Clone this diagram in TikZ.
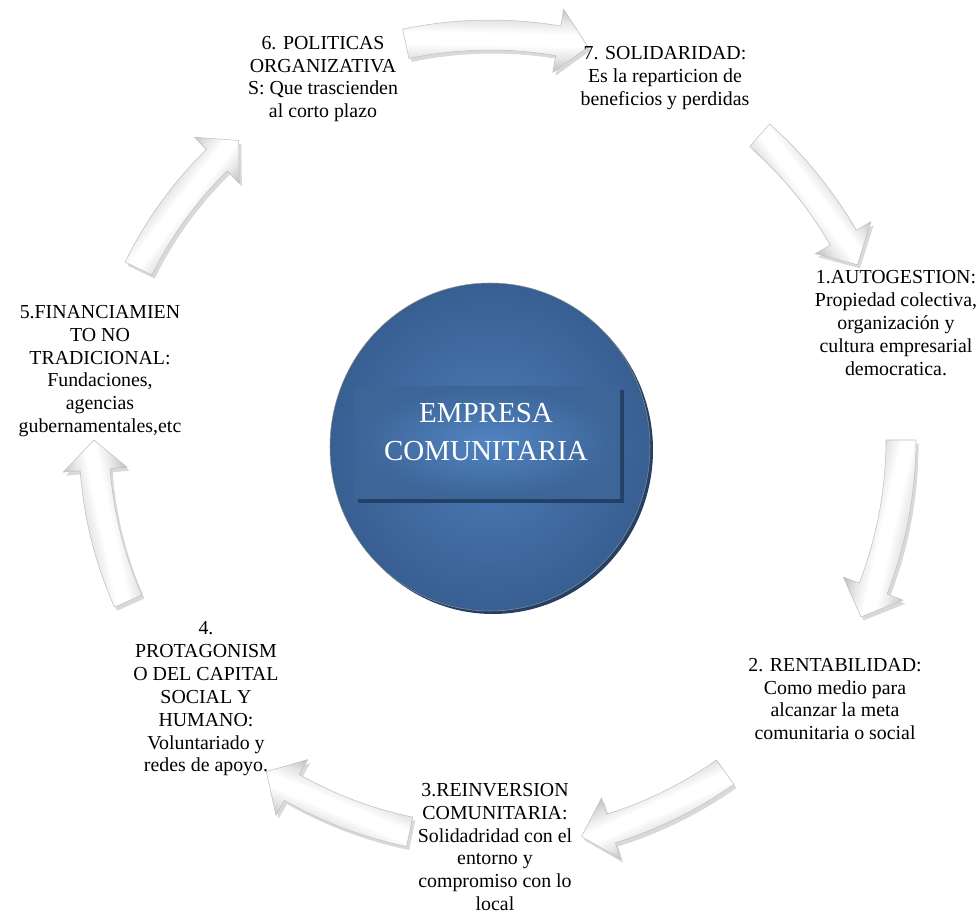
\documentclass[tikz,border=0pt]{standalone}
\usepackage{fontspec}
\setmainfont{Liberation Serif}

\definecolor{hubin}{RGB}{76,124,184}
\definecolor{hubout}{RGB}{56,95,146}
\definecolor{hubdark}{RGB}{38,63,102}
\definecolor{corein}{RGB}{82,132,194}
\definecolor{coreout}{RGB}{60,101,152}

\pgfdeclareradialshading{hubglow}{\pgfpoint{0bp}{0bp}}{color(0bp)=(hubin); color(25bp)=(hubout); color(50bp)=(hubout)}
\pgfdeclareradialshading{coreglow}{\pgfpoint{0bp}{0bp}}{color(0bp)=(corein); color(25bp)=(coreout); color(50bp)=(coreout)}
\pgfdeclarehorizontalshading{tube}{100bp}{color(0bp)=(gray!50); color(25bp)=(gray!50); color(36bp)=(gray!20); color(46bp)=(white); color(55bp)=(white); color(65bp)=(gray!20); color(75bp)=(gray!45); color(100bp)=(gray!45)}

\tikzset{
  steptext/.style={align=center, inner sep=0pt, font=\fontsize{11.3}{13}\selectfont},
  arrowbody/.style={shading=tube, draw=gray!50, line width=0.3pt},
  arrowshade/.style={fill=black, opacity=0.15},
}

\begin{document}
\begin{tikzpicture}[x=0.02cm, y=0.02cm]
    \useasboundingbox (-490,-473) rectangle (490,440);
    \coordinate (c) at (0,0);
    % curved block arrows round the cycle
    \foreach \m/\s/\r in {89/13/405, 37/11.5/407, -12.75/12.75/411, -65.85/11.15/407, -112.8/11.2/400, -168/12/396, 142/12/391}{
      \pgfmathsetmacro\hd{-\s+4.3}
      \fill[arrowshade, transform canvas={xshift=1.5pt, yshift=-2pt, rotate=\m}]
        ({\s}:{\r+15}) arc[start angle=\s, end angle=\hd, radius=\r+15] -- ({\hd}:{\r+32})
        -- ({-\s}:{\r}) -- ({\hd}:{\r-32}) -- ({\hd}:{\r-15})
        arc[start angle=\hd, end angle=\s, radius=\r-15] -- cycle;
      \draw[arrowbody, transform canvas={rotate=\m}]
        ({\s}:{\r+15}) arc[start angle=\s, end angle=\hd, radius=\r+15] -- ({\hd}:{\r+32})
        -- ({-\s}:{\r}) -- ({\hd}:{\r-32}) -- ({\hd}:{\r-15})
        arc[start angle=\hd, end angle=\s, radius=\r-15] -- cycle;
    }
    % centre disc
    \fill[hubdark] (3,-10) ellipse[x radius=160, y radius=164];
    \shade[shading=hubglow, draw=black!45, line width=0.3pt] (0,-7) ellipse[x radius=160, y radius=164];
    \fill[hubdark] (-132,50) rectangle (134,-63);
    \shade[shading=coreglow] (-135,54) rectangle (130,-58);
    \node[text=white, align=center, inner sep=0pt, font=\fontsize{16.5}{21.5}\selectfont] (core) at (-4,8) {EMPRESA\\COMUNITARIA};
    % the seven steps
    \node[steptext] (n7) at (175,362) {7. SOLIDARIDAD:\\Es la reparticion de\\beneficios y perdidas};
    \node[steptext] (n1) at (406,117) {1.AUTOGESTION:\\Propiedad colectiva,\\organización y\\cultura empresarial\\democratica.};
    \node[steptext] (n2) at (345,-259) {2. RENTABILIDAD:\\Como medio para\\alcanzar la meta\\comunitaria o social};
    \node[steptext] (n3) at (5,-407) {3.REINVERSION\\COMUNITARIA:\\Solidadridad con el\\entorno y\\compromiso con lo\\local};
    \node[steptext] (n4) at (-284,-259) {4.\\PROTAGONISM\\O DEL CAPITAL\\SOCIAL Y\\HUMANO:\\Voluntariado y\\redes de apoyo.};
    \node[steptext] (n5) at (-390,69) {5.FINANCIAMIEN\\TO NO\\TRADICIONAL:\\Fundaciones,\\agencias\\gubernamentales,etc};
    \node[steptext] (n6) at (-167,361) {6. POLITICAS\\ORGANIZATIVA\\S: Que trascienden\\al corto plazo};
\end{tikzpicture}
\end{document}
